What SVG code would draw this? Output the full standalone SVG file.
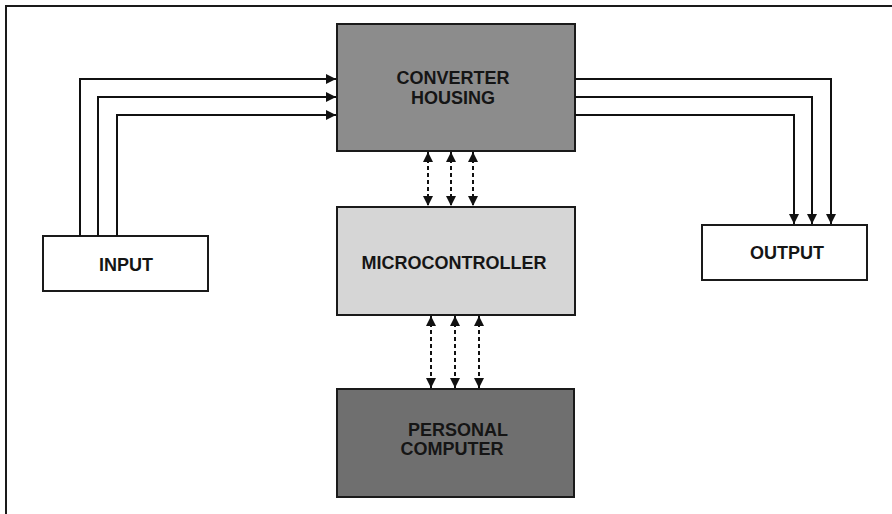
<svg xmlns="http://www.w3.org/2000/svg" width="892" height="514" viewBox="0 0 892 514">
<defs>
<marker id="ah" viewBox="0 0 10 10" refX="10" refY="5" markerWidth="10" markerHeight="10" markerUnits="userSpaceOnUse" orient="auto-start-reverse">
<path d="M0,0 L10,5 L0,10 Z" fill="#111"/>
</marker>
</defs>
<style>
.box{stroke:#1a1a1a;stroke-width:2}
.lbl{font-family:"Liberation Sans",Arial,sans-serif;font-weight:bold;font-size:18px;fill:#151515;text-anchor:middle}
.ln{fill:none;stroke:#111;stroke-width:2}
.dash{fill:none;stroke:#111;stroke-width:2;stroke-dasharray:4 3}
</style>
<rect width="892" height="514" fill="#ffffff"/>
<path d="M6,514 L6,6 L892,6" fill="none" stroke="#1a1a1a" stroke-width="2"/>
<g id="converter">
<rect class="box" x="337" y="24" width="238" height="127" fill="#8c8c8c"/>
<text class="lbl" x="453" y="84">CONVERTER</text>
<text class="lbl" x="453" y="104">HOUSING</text>
</g>
<g id="microcontroller">
<rect class="box" x="337" y="207" width="238" height="108" fill="#d6d6d6"/>
<text class="lbl" x="454" y="269">MICROCONTROLLER</text>
</g>
<g id="pc">
<rect class="box" x="337" y="389" width="237" height="108" fill="#6f6f6f"/>
<text class="lbl" x="458" y="436">PERSONAL</text>
<text class="lbl" x="452" y="455">COMPUTER</text>
</g>
<g id="input">
<rect class="box" x="43" y="236" width="165" height="55" fill="#ffffff"/>
<text class="lbl" x="126" y="271">INPUT</text>
</g>
<g id="output">
<rect class="box" x="702" y="225" width="165" height="55" fill="#ffffff"/>
<text class="lbl" x="787" y="259">OUTPUT</text>
</g>
<g id="connectors">
<path class="ln" d="M80,236 L80,79 L336,79" marker-end="url(#ah)"/>
<path class="ln" d="M98,236 L98,97 L336,97" marker-end="url(#ah)"/>
<path class="ln" d="M117,236 L117,115 L336,115" marker-end="url(#ah)"/>
<path class="ln" d="M575,79 L831,79 L831,224" marker-end="url(#ah)"/>
<path class="ln" d="M575,97 L812,97 L812,224" marker-end="url(#ah)"/>
<path class="ln" d="M575,115 L794,115 L794,224" marker-end="url(#ah)"/>
<path class="dash" d="M428,152 L428,206" marker-start="url(#ah)" marker-end="url(#ah)"/>
<path class="dash" d="M451,152 L451,206" marker-start="url(#ah)" marker-end="url(#ah)"/>
<path class="dash" d="M473,152 L473,206" marker-start="url(#ah)" marker-end="url(#ah)"/>
<path class="dash" d="M431,316 L431,388" marker-start="url(#ah)" marker-end="url(#ah)"/>
<path class="dash" d="M455,316 L455,388" marker-start="url(#ah)" marker-end="url(#ah)"/>
<path class="dash" d="M479,316 L479,388" marker-start="url(#ah)" marker-end="url(#ah)"/>
</g>
</svg>
